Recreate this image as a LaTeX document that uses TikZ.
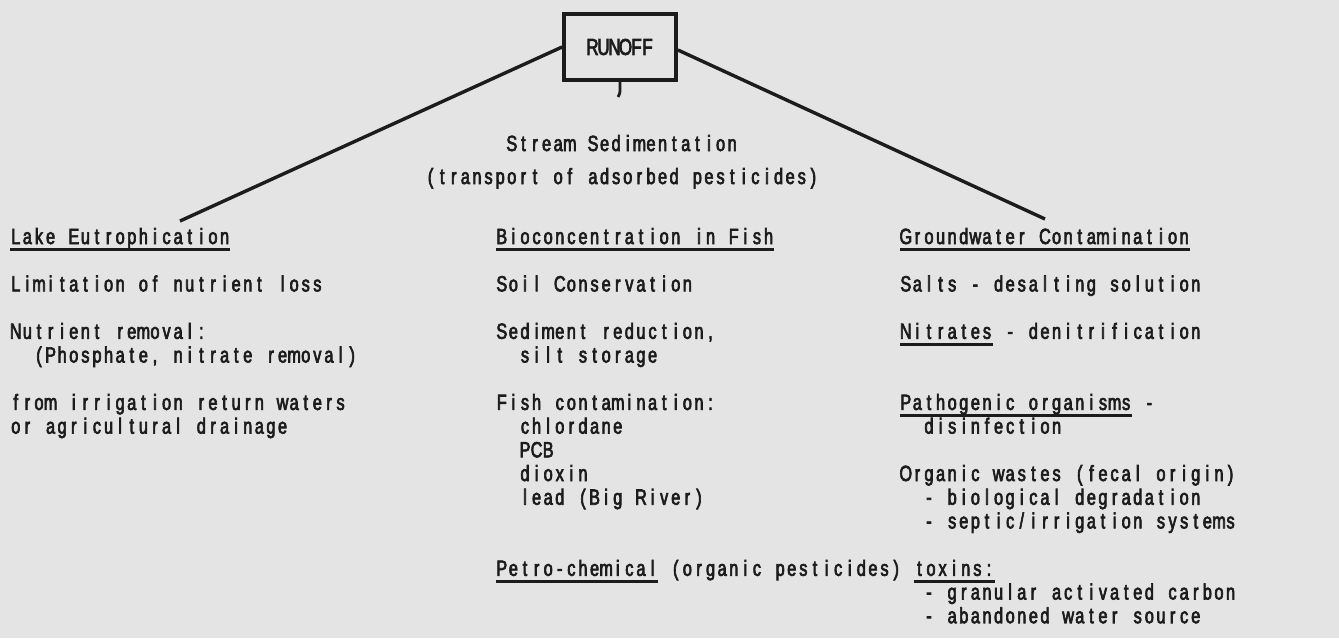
\documentclass[tikz,border=0pt]{standalone}
\usepackage{fontspec}
\setmainfont{Liberation Sans}[FakeStretch=0.74,FakeBold=3]
\newlength\twpitch
\setlength\twpitch{11.6pt}
\ExplSyntaxOn
\NewDocumentCommand\tw{m}{\str_map_inline:nn{#1}{\makebox[\twpitch][c]{##1}}}
\ExplSyntaxOff
\newcommand\twul[1]{\setbox0\hbox{\tw{#1}}\rlap{\rule[-7pt]{\wd0}{2.8pt}}\box0}
\newcommand\twsp{\hspace*{\twpitch}}
\definecolor{paper}{RGB}{228,228,228}
\definecolor{ink}{RGB}{28,28,28}
\begin{document}
\begin{tikzpicture}[x=1pt,y=-1pt,
  txt/.style={anchor=base west,inner sep=0pt,outer sep=0pt,text=ink,font=\fontsize{22}{24}\selectfont},
  ttl/.style={anchor=base,inner sep=0pt,outer sep=0pt,text=ink,font=\fontsize{22}{24}\selectfont},
  conn/.style={draw=ink,line width=3.4pt},
  boxst/.style={draw=ink,line width=3.8pt,minimum width=112pt,minimum height=66pt,inner sep=0pt,text=ink,font=\fontsize{23}{24}\selectfont\setlength\twpitch{11pt}}
]
\fill[paper] (0,0) rectangle (1339,638);
\useasboundingbox (0,0) rectangle (1339,638);

% top
\node[boxst] (runoff) at (620,47) {\tw{RUNOFF}};
\coordinate (lend) at (180,221);
\coordinate (rend) at (1045,219);
\draw[conn] (runoff.west) -- (lend);
\draw[conn] ([yshift=-3pt]runoff.east) -- (rend);
\draw[draw=ink,line width=2.8pt] (runoff.south) -- ++(0,8) .. controls +(0,5) and +(1,-3) .. ++(-2,7);

\node[ttl] (stream) at (622,151) {\tw{Stream Sedimentation}};
\node[ttl] (transp) at (622,184) {\tw{(transport of adsorbed pesticides)}};

% left column
\node[txt] (lake) at (10,244) {\twul{Lake Eutrophication}};
\node[txt] (limit) at (10,291.4) {\tw{Limitation of nutrient loss}};
\node[txt] (nutr) at (10,338.8) {\tw{Nutrient removal:}};
\node[txt] (phos) at (33.2,362.5) {\tw{(Phosphate, nitrate removal)}};
\node[txt] (irr) at (10,409.9) {\tw{from irrigation return waters}};
\node[txt] (agr) at (10,433.6) {\tw{or agricultural drainage}};

% middle column
\node[txt] (bio) at (496,244) {\twul{Bioconcentration in Fish}};
\node[txt] (soil) at (496,291.4) {\tw{Soil Conservation}};
\node[txt] (sed) at (496,338.8) {\tw{Sediment reduction,}};
\node[txt] (silt) at (519.2,362.5) {\tw{silt storage}};
\node[txt] (fish) at (496,409.9) {\tw{Fish contamination:}};
\node[txt] (chl) at (519.2,433.6) {\tw{chlordane}};
\node[txt] (pcb) at (519.2,457.3) {\tw{PCB}};
\node[txt] (diox) at (519.2,481) {\tw{dioxin}};
\node[txt] (lead) at (519.2,504.7) {\tw{lead (Big River)}};
\node[txt] (petro) at (496,575.8) {\twul{Petro-chemical}\twsp\tw{(organic pesticides)}\twsp\twul{toxins:}};

% right column
\node[txt] (gw) at (900,244) {\twul{Groundwater Contamination}};
\node[txt] (salts) at (900,291.4) {\tw{Salts - desalting solution}};
\node[txt] (nit) at (900,338.8) {\twul{Nitrates}\twsp\tw{- denitrification}};
\node[txt] (path) at (900,409.9) {\twul{Pathogenic organisms}\twsp\tw{-}};
\node[txt] (dis) at (923.2,433.6) {\tw{disinfection}};
\node[txt] (org) at (900,481) {\tw{Organic wastes (fecal origin)}};
\node[txt] (biol) at (923.2,504.7) {\tw{- biological degradation}};
\node[txt] (sep) at (923.2,528.4) {\tw{- septic/irrigation systems}};
\node[txt] (gac) at (923.2,599.5) {\tw{- granular activated carbon}};
\node[txt] (aws) at (923.2,623.2) {\tw{- abandoned water source}};
\end{tikzpicture}
\end{document}
